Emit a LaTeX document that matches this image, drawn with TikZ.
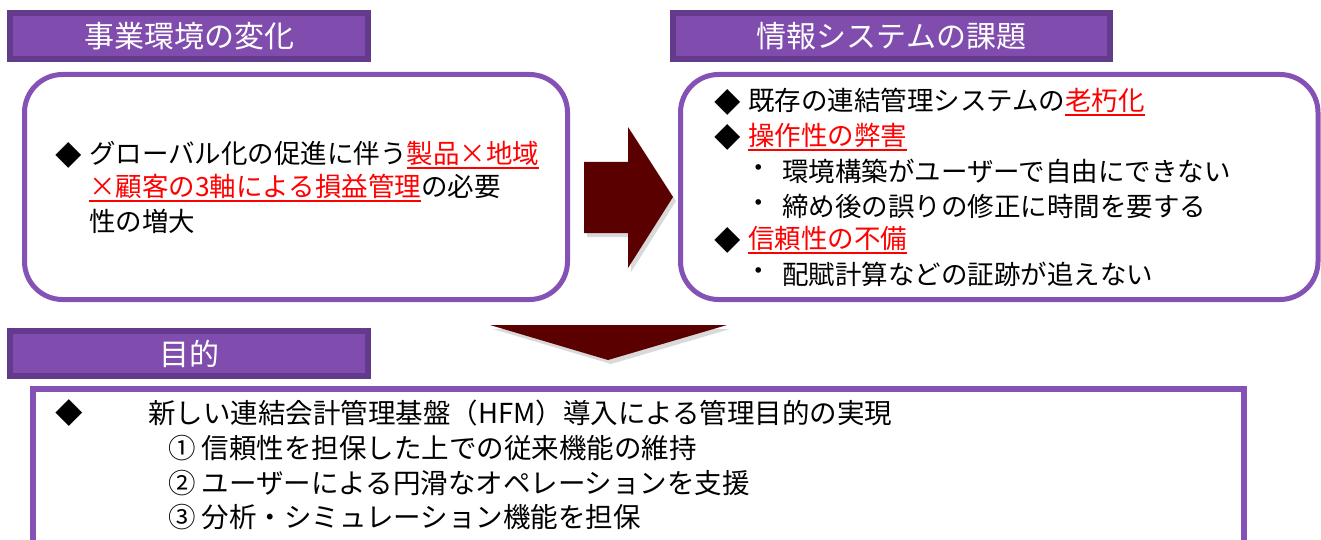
\documentclass[tikz,border=0pt]{standalone}
\usepackage{fontspec}
\setmainfont{Noto Sans CJK JP}
\usetikzlibrary{shadows}
\definecolor{boxpurple}{HTML}{8551B5}
\definecolor{titlefill}{HTML}{804CAD}
\definecolor{titleedge}{HTML}{643A8C}
\definecolor{arrowred}{HTML}{5A0000}
\newcommand\redul[1]{\textcolor{red}{\setbox0\hbox{#1}\rlap{\rule[-0.2em]{\wd0}{1.6pt}}\box0}}
\begin{document}
\begin{tikzpicture}[x=1pt,y=-1pt,
  titlebox/.style={draw=titleedge, fill=titlefill, line width=6pt, inner sep=0pt,
    text=white, font=\fontsize{30}{30}\selectfont},
  roundbox/.style={draw=boxpurple, line width=5pt, rounded corners=38pt, fill=white, inner sep=0pt},
  plainbox/.style={draw=boxpurple, line width=6pt, fill=white, inner sep=0pt},
  txt/.style={anchor=west, inner sep=0pt, font=\fontsize{26.5}{26.5}\selectfont},
  txtb/.style={anchor=west, inner sep=0pt, font=\fontsize{27.5}{27.5}\selectfont},
  blockarrow/.style={fill=arrowred, drop shadow={opacity=0.3, shadow xshift=3pt, shadow yshift=-4pt}}
]
\useasboundingbox (0,0) rectangle (1321,540);
\clip (0,0) rectangle (1321,540);

% title bars
\node[titlebox, minimum width=358pt, minimum height=46pt] (t1) at (189,36) {事業環境の変化};
\node[titlebox, minimum width=437pt, minimum height=46pt] (t2) at (891.5,36) {情報システムの課題};

% content boxes
\node[roundbox, minimum width=543pt, minimum height=225pt] (b1) at (296,187) {};
\node[roundbox, minimum width=637.5pt, minimum height=225pt] (b2) at (999.25,187) {};

% box 1 text
\node[txt] (b1d) at (55,155) {◆};
\node[txt] (b1l1) at (89,155) {グローバル化の促進に伴う\redul{製品×地域}};
\node[txt] (b1l2) at (89,188) {\redul{×顧客の3軸による損益管理}の必要};
\node[txt] (b1l3) at (89,221) {性の増大};

% box 2 text
\node[txt] (b2d1) at (714,102) {◆};
\node[txt] (b2l1) at (748,102) {既存の連結管理システムの\redul{老朽化}};
\node[txt] (b2d2) at (714,137) {◆};
\node[txt] (b2l2) at (748,137) {\redul{操作性の弊害}};
\node[txt] (b2s1) at (745,171) {・};
\node[txt] (b2l3) at (782,171) {環境構築がユーザーで自由にできない};
\node[txt] (b2s2) at (745,206) {・};
\node[txt] (b2l4) at (782,206) {締め後の誤りの修正に時間を要する};
\node[txt] (b2d3) at (714,240) {◆};
\node[txt] (b2l5) at (748,240) {\redul{信頼性の不備}};
\node[txt] (b2s3) at (745,274) {・};
\node[txt] (b2l6) at (782,274) {配賦計算などの証跡が追えない};

% arrows
\fill[blockarrow] (584,162) -- (628,162) -- (628,127) -- (673,197) -- (628,268) -- (628,233) -- (584,233) -- cycle;
\fill[blockarrow] (490,325) -- (727,325) -- (608,360) -- cycle;

% bottom section
\node[plainbox, minimum width=1211pt, minimum height=171pt] (b3) at (638.5,474.5) {};
\node[titlebox, minimum width=358pt, minimum height=45pt] (t3) at (189,353.5) {目的};

\node[txtb] (b3d) at (55,413) {◆};
\node[txtb] (b3l1) at (148,413) {新しい連結会計管理基盤（HFM）導入による管理目的の実現};
\node[txtb] (b3l2) at (168,448) {① 信頼性を担保した上での従来機能の維持};
\node[txtb] (b3l3) at (168,483) {② ユーザーによる円滑なオペレーションを支援};
\node[txtb] (b3l4) at (168,517) {③ 分析・シミュレーション機能を担保};
\end{tikzpicture}
\end{document}
